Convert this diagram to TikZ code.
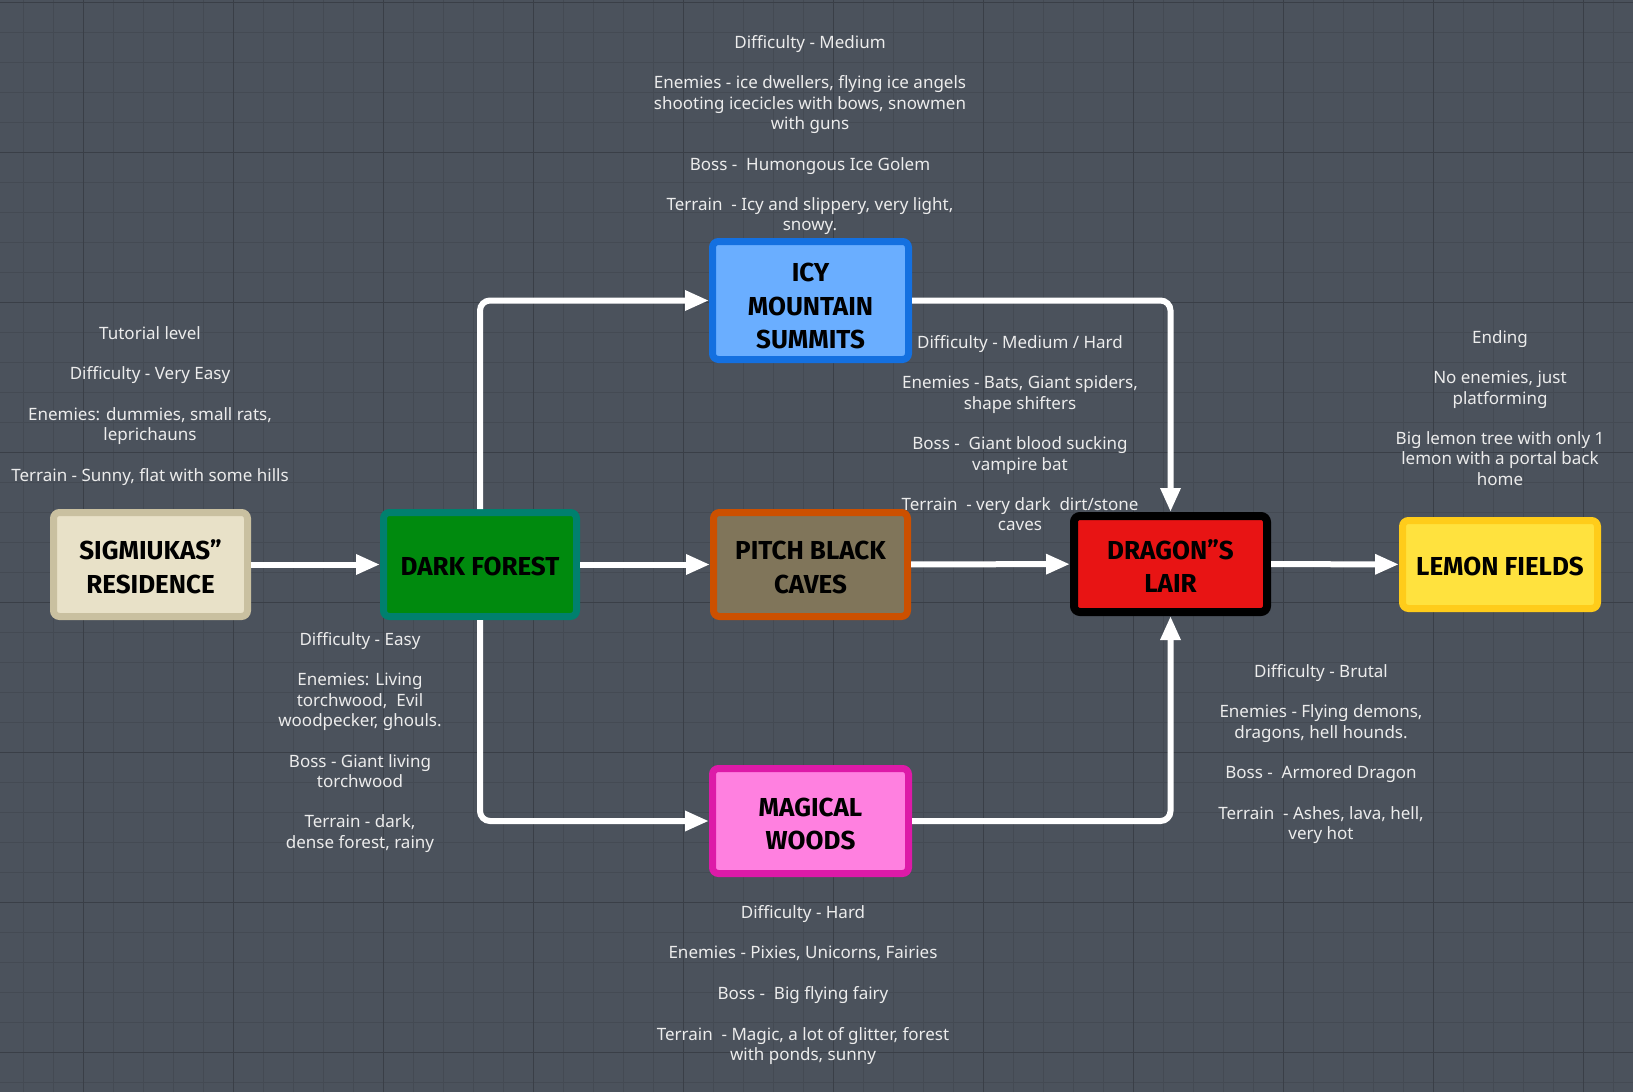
\documentclass[tikz,border=0pt]{standalone}
\usepackage{fontspec}
\newfontfamily\notefont{Noto Sans}
\newfontfamily\boxfont{Fira Sans}
\usetikzlibrary{arrows.meta}
\newcommand{\lift}[1]{\rule{0pt}{#1}}
\definecolor{bgc}{RGB}{75,82,92}
\definecolor{gridminor}{RGB}{68,74,83}
\definecolor{gridmajor}{RGB}{58,63,71}
\definecolor{notec}{RGB}{236,236,236}
\definecolor{sigfill}{RGB}{232,225,200}
\definecolor{sigdraw}{RGB}{201,192,160}
\definecolor{darkfill}{RGB}{0,138,14}
\definecolor{darkdraw}{RGB}{0,128,110}
\definecolor{icyfill}{RGB}{106,174,255}
\definecolor{icydraw}{RGB}{20,112,224}
\definecolor{pitchfill}{RGB}{128,117,90}
\definecolor{pitchdraw}{RGB}{204,80,0}
\definecolor{dragfill}{RGB}{232,20,20}
\definecolor{lemfill}{RGB}{255,226,62}
\definecolor{lemdraw}{RGB}{255,204,26}
\definecolor{magfill}{RGB}{255,128,224}
\definecolor{magdraw}{RGB}{221,26,168}
\tikzset{
  lvl/.style={draw, line width=7pt, rounded corners=6pt, inner sep=0pt, align=center,
    text=black, font=\boxfont\bfseries\fontsize{26}{33.5}\selectfont},
  note/.style={anchor=north, inner sep=0pt, align=center, text=notec,
    font=\notefont\fontsize{17}{20.3}\selectfont},
  arr/.style={draw=white, line width=6pt, rounded corners=10pt,
    -{Triangle[length=24pt,width=19pt]}},
  gmin/.style={draw=gridminor, line width=1pt},
  gmaj/.style={draw=gridmajor, line width=1.5pt}
}
\begin{document}
\begin{tikzpicture}[x=1pt,y=-1pt]
\fill[bgc] (0,0) rectangle (1633,1092);
\useasboundingbox (0,0) rectangle (1633,1092);
\foreach \i in {0,...,54} { \draw[gmin] ({23.3+30*\i},0) -- ({23.3+30*\i},1092); }
\foreach \j in {0,...,36} { \draw[gmin] (0,{2.3+30*\j}) -- (1633,{2.3+30*\j}); }
\foreach \i in {0,...,10} { \draw[gmaj] ({83.3+150*\i},0) -- ({83.3+150*\i},1092); }
\foreach \j in {0,...,7} { \draw[gmaj] (0,{2.3+150*\j}) -- (1633,{2.3+150*\j}); }

% level boxes
\node[lvl, fill=sigfill, draw=sigdraw, minimum width=194pt, minimum height=104pt] (sig) at (150.5,564.5) {\lift{24pt}SIGMIUKAS”\\RESIDENCE};
\node[lvl, fill=darkfill, draw=darkdraw, minimum width=193pt, minimum height=104pt] (dark) at (480,564.5) {\lift{22pt}DARK FOREST};
\node[lvl, fill=icyfill, draw=icydraw, minimum width=196pt, minimum height=118pt] (icy) at (810.5,300.5) {\lift{30pt}ICY\\MOUNTAIN\\SUMMITS};
\node[lvl, fill=pitchfill, draw=pitchdraw, minimum width=194pt, minimum height=104pt] (pitch) at (810.5,564.5) {\lift{24pt}PITCH BLACK\\CAVES};
\node[lvl, fill=magfill, draw=magdraw, minimum width=196pt, minimum height=105pt] (mag) at (810.5,821) {\lift{24pt}MAGICAL\\WOODS};
\node[lvl, fill=dragfill, draw=black, line width=8pt, minimum width=193pt, minimum height=96pt] (drag) at (1170.5,564) {\lift{24pt}DRAGON”S\\LAIR};
\node[lvl, fill=lemfill, draw=lemdraw, minimum width=195pt, minimum height=88pt] (lemon) at (1500,564.5) {\lift{22pt}LEMON FIELDS};

% connectors
\draw[arr] (sig) -- (dark);
\draw[arr] (dark) -- (pitch);
\draw[arr] (dark.north) |- (icy.west);
\draw[arr] (dark.south) |- (mag.west);
\draw[arr] (pitch) -- (drag);
\draw[arr] (icy.east) -| (drag.north);
\draw[arr] (mag.east) -| (drag.south);
\draw[arr] (drag) -- (lemon);

% notes
\node[note] (tsig) at (150,326) {Tutorial level\\[20.3pt]Difficulty - Very Easy\\[20.3pt]Enemies: dummies, small rats,\\leprichauns\\[20.3pt]Terrain - Sunny, flat with some hills};
\node[note] (ticy) at (810,35) {Difficulty - Medium\\[20.3pt]Enemies - ice dwellers, flying ice angels\\shooting icecicles with bows, snowmen\\with guns\\[20.3pt]Boss -~ Humongous Ice Golem\\[20.3pt]Terrain~ - Icy and slippery, very light,\\snowy.};
\node[note] (tcave) at (1020,335) {Difficulty - Medium / Hard\\[20.3pt]Enemies - Bats, Giant spiders,\\shape shifters\\[20.3pt]Boss -~ Giant blood sucking\\vampire bat\\[20.3pt]Terrain~ - very dark~ dirt/stone\\caves};
\node[note] (tlemon) at (1500,330) {Ending\\[20.3pt]No enemies, just\\platforming\\[20.3pt]Big lemon tree with only 1\\lemon with a portal back\\home};
\node[note] (tdark) at (360,632) {Difficulty - Easy\\[20.3pt]Enemies: Living\\torchwood,~ Evil\\woodpecker, ghouls.\\[20.3pt]Boss - Giant living\\torchwood\\[20.3pt]Terrain - dark,\\dense forest, rainy};
\node[note] (tdrag) at (1321,664) {Difficulty - Brutal\\[20.3pt]Enemies - Flying demons,\\dragons, hell hounds.\\[20.3pt]Boss -~ Armored Dragon\\[20.3pt]Terrain~ - Ashes, lava, hell,\\very hot};
\node[note] (tmag) at (803,905) {Difficulty - Hard\\[20.3pt]Enemies - Pixies, Unicorns, Fairies\\[20.3pt]Boss -~ Big flying fairy\\[20.3pt]Terrain~ - Magic, a lot of glitter, forest\\with ponds, sunny};
\end{tikzpicture}
\end{document}
